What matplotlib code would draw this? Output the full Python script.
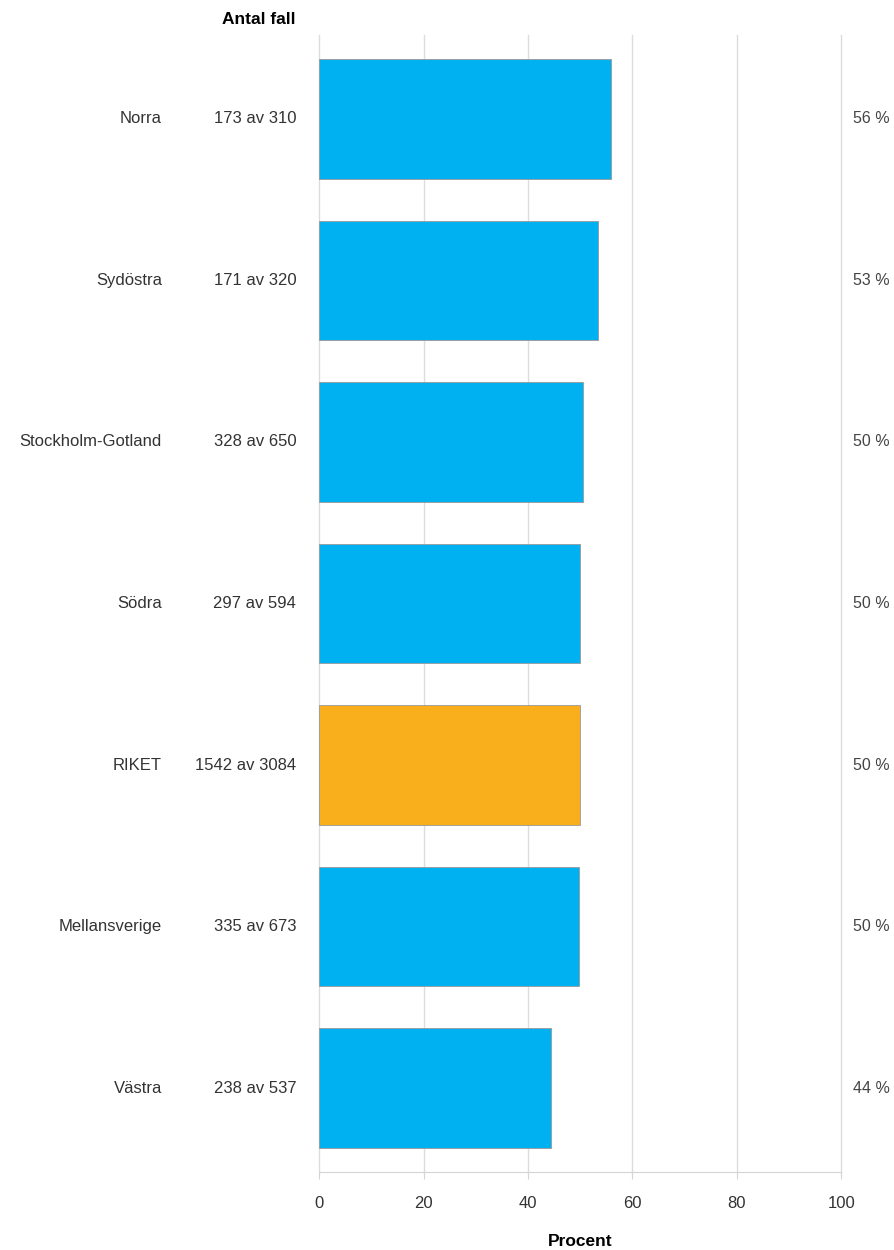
import numpy as np
import matplotlib.pyplot as plt

plt.rcParams['font.family'] = ['Liberation Sans', 'DejaVu Sans']

# regions, top to bottom
regions = ['Norra', 'Sydöstra', 'Stockholm-Gotland', 'Södra', 'RIKET',
           'Mellansverige', 'Västra']
cases = [173, 171, 328, 297, 1542, 335, 238]
totals = [310, 320, 650, 594, 3084, 673, 537]

pct = [100 * c / t for c, t in zip(cases, totals)]
colors = ['#f9ae1b' if r == 'RIKET' else '#00b1f1' for r in regions]

fig = plt.figure(figsize=(8.94, 12.5), dpi=100)
ax = fig.add_axes([0.357, 0.0624, 0.584, 0.9096])

y = np.arange(len(regions))
ax.barh(y, pct, height=0.74, color=colors, edgecolor='#9a9a9a',
        linewidth=0.6, zorder=3)

ax.set_xlim(0, 100)
ax.set_ylim(len(regions) - 0.48, -0.52)
ax.set_xticks(range(0, 101, 20))
ax.set_yticks([])
ax.grid(axis='x', color='#dcdcdc', linewidth=1, zorder=0)
for gl in ax.get_xgridlines():
    gl.set_clip_on(False)
for s in ['top', 'right', 'left']:
    ax.spines[s].set_visible(False)
ax.spines['bottom'].set_color('#d4d4d4')
ax.tick_params(axis='x', colors='#d4d4d4', labelcolor='#333333',
               length=5, labelsize=12, pad=12)

tr = ax.get_yaxis_transform()
for i, r in enumerate(regions):
    ax.text(-0.301, i, r, transform=tr, ha='right', va='center',
            fontsize=12, color='#333333')
    ax.text(-0.044, i, f'{cases[i]} av {totals[i]}', transform=tr,
            ha='right', va='center', fontsize=12, color='#333333')
    ax.text(1.023, i, f'{pct[i]:.0f} %', transform=tr, ha='left',
            va='center', fontsize=11.5, color='#444444')

fig.text(0.331, 0.984, 'Antal fall', ha='right', va='center',
         fontsize=12.5, fontweight='bold')
fig.text(0.649, 0.007, 'Procent', ha='center', va='center',
         fontsize=12.5, fontweight='bold')

fig.savefig('out.png', dpi=100)
